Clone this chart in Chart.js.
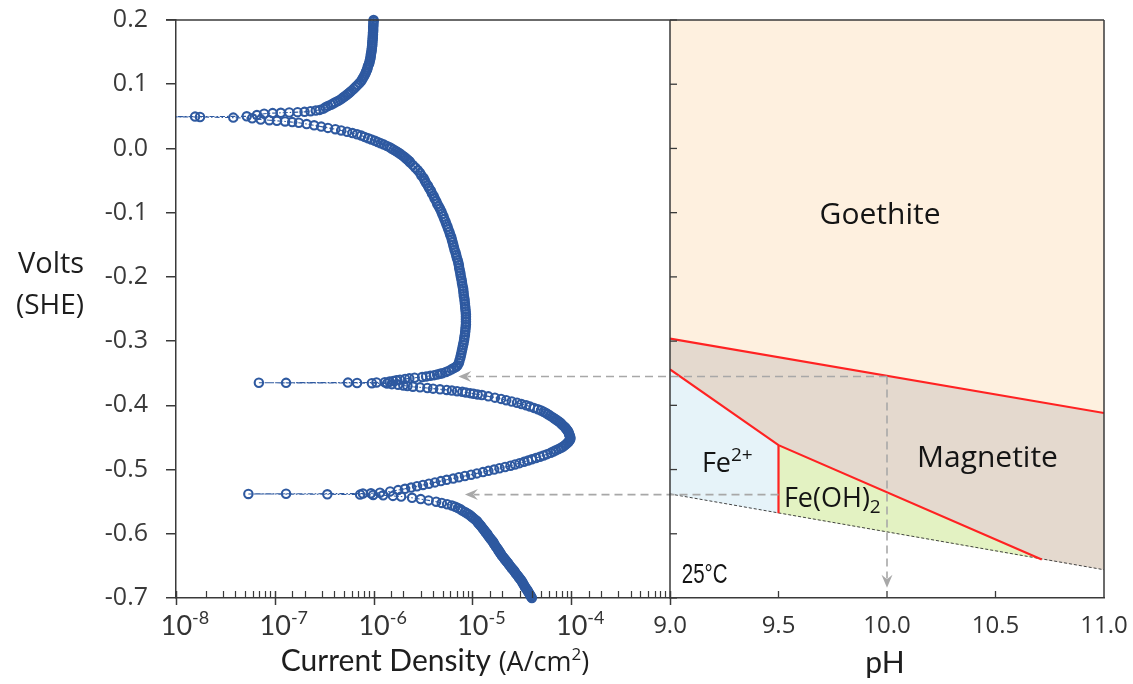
<!DOCTYPE html>
<html>
<head>
<meta charset="utf-8">
<script src="https://cdn.jsdelivr.net/npm/chart.js@4.4.1/dist/chart.umd.min.js"></script>
<style>
  html, body { margin: 0; padding: 0; background: #ffffff; }
  #wrap { position: relative; width: 1133px; height: 684px; }
  canvas { display: block; }
</style>
</head>
<body>
<div id="wrap"><canvas id="chart" width="1133" height="684"></canvas></div>
<script>
// Potentiodynamic scan of steel: [potential (V vs SHE), |current density| (A/cm2)], in scan order
const polarization = [
  [-0.700,4.0e-5],[-0.698,3.93e-5],[-0.696,3.87e-5],[-0.694,3.8e-5],[-0.692,3.73e-5],[-0.690,3.66e-5],
  [-0.688,3.6e-5],[-0.686,3.52e-5],[-0.684,3.45e-5],[-0.682,3.39e-5],[-0.680,3.33e-5],[-0.678,3.27e-5],
  [-0.676,3.22e-5],[-0.674,3.16e-5],[-0.672,3.1e-5],[-0.670,3.03e-5],[-0.668,2.96e-5],[-0.666,2.9e-5],
  [-0.664,2.83e-5],[-0.662,2.76e-5],[-0.660,2.7e-5],[-0.658,2.65e-5],[-0.656,2.59e-5],[-0.654,2.52e-5],
  [-0.652,2.46e-5],[-0.650,2.4e-5],[-0.648,2.35e-5],[-0.646,2.3e-5],[-0.644,2.24e-5],[-0.642,2.19e-5],
  [-0.640,2.14e-5],[-0.638,2.09e-5],[-0.636,2.04e-5],[-0.634,1.99e-5],[-0.632,1.95e-5],[-0.630,1.91e-5],
  [-0.628,1.88e-5],[-0.626,1.84e-5],[-0.624,1.81e-5],[-0.622,1.77e-5],[-0.620,1.73e-5],[-0.618,1.7e-5],
  [-0.616,1.66e-5],[-0.614,1.64e-5],[-0.612,1.61e-5],[-0.610,1.57e-5],[-0.608,1.53e-5],[-0.606,1.5e-5],
  [-0.604,1.46e-5],[-0.602,1.43e-5],[-0.600,1.41e-5],[-0.598,1.37e-5],[-0.596,1.34e-5],[-0.594,1.31e-5],
  [-0.592,1.28e-5],[-0.590,1.25e-5],[-0.588,1.22e-5],[-0.586,1.19e-5],[-0.584,1.16e-5],[-0.582,1.13e-5],
  [-0.580,1.11e-5],[-0.578,1.07e-5],[-0.576,1.03e-5],[-0.574,9.9e-6],[-0.572,9.6e-6],[-0.570,9.25e-6],
  [-0.568,8.8e-6],[-0.566,8.4e-6],[-0.564,7.9e-6],[-0.562,7.6e-6],[-0.560,7.15e-6],[-0.558,6.7e-6],
  [-0.556,6.2e-6],[-0.554,5.55e-6],[-0.552,4.9e-6],[-0.550,4.3e-6],[-0.548,3.6e-6],[-0.546,3.0e-6],
  [-0.544,2.45e-6],[-0.542,1.9e-6],[-0.541,1.57e-6],[-0.540,1.25e-6],[-0.5395,9.9e-7],
  [-0.539,7.3e-7],[-0.5385,3.4e-7],[-0.538,5.4e-8],[-0.5377,1.3e-7],[-0.5374,7.8e-7],[-0.537,9.4e-7],
  [-0.536,1.16e-6],[-0.534,1.47e-6],[-0.532,1.77e-6],[-0.530,2.08e-6],[-0.528,2.4e-6],[-0.526,2.75e-6],
  [-0.524,3.16e-6],[-0.522,3.63e-6],[-0.520,4.18e-6],[-0.518,4.8e-6],[-0.516,5.5e-6],[-0.514,6.4e-6],
  [-0.512,7.3e-6],[-0.510,8.4e-6],[-0.508,9.7e-6],[-0.506,1.11e-5],[-0.504,1.28e-5],[-0.502,1.45e-5],
  [-0.500,1.66e-5],[-0.498,1.88e-5],[-0.496,2.14e-5],[-0.494,2.43e-5],[-0.492,2.7e-5],[-0.490,3.0e-5],
  [-0.488,3.33e-5],[-0.486,3.66e-5],[-0.484,4.0e-5],[-0.482,4.4e-5],[-0.480,4.83e-5],[-0.478,5.25e-5],
  [-0.476,5.7e-5],[-0.474,6.2e-5],[-0.472,6.6e-5],[-0.470,7.0e-5],[-0.468,7.45e-5],[-0.466,7.9e-5],
  [-0.464,8.3e-5],[-0.462,8.65e-5],[-0.460,8.95e-5],[-0.458,9.25e-5],[-0.456,9.5e-5],[-0.454,9.7e-5],
  [-0.452,9.8e-5],[-0.450,9.8e-5],[-0.448,9.7e-5],[-0.446,9.6e-5],[-0.444,9.5e-5],[-0.442,9.4e-5],
  [-0.440,9.25e-5],[-0.438,9.05e-5],[-0.436,8.85e-5],[-0.434,8.65e-5],[-0.432,8.35e-5],[-0.430,8.1e-5],
  [-0.428,7.85e-5],[-0.426,7.6e-5],[-0.424,7.3e-5],[-0.422,7.0e-5],[-0.420,6.7e-5],[-0.418,6.4e-5],
  [-0.416,6.1e-5],[-0.414,5.8e-5],[-0.412,5.55e-5],[-0.410,5.25e-5],[-0.408,4.95e-5],[-0.406,4.6e-5],
  [-0.404,4.2e-5],[-0.402,3.83e-5],[-0.400,3.5e-5],[-0.398,3.14e-5],[-0.396,2.83e-5],[-0.394,2.5e-5],
  [-0.392,2.2e-5],[-0.390,1.95e-5],[-0.388,1.69e-5],[-0.386,1.45e-5],[-0.384,1.25e-5],[-0.383,1.13e-5],
  [-0.382,1.03e-5],[-0.381,9.5e-6],[-0.380,8.6e-6],[-0.379,7.9e-6],[-0.378,7.0e-6],[-0.377,6.2e-6],
  [-0.376,5.5e-6],[-0.375,4.7e-6],[-0.374,4.0e-6],[-0.373,3.5e-6],[-0.372,2.95e-6],[-0.371,2.5e-6],
  [-0.370,2.2e-6],[-0.369,2.0e-6],[-0.368,1.77e-6],[-0.367,1.53e-6],[-0.366,1.37e-6],
  [-0.3655,9.6e-7],[-0.3652,6.8e-7],[-0.365,1.3e-7],[-0.3648,6.9e-8],[-0.3646,5.5e-7],[-0.3644,1.07e-6],
  [-0.364,1.3e-6],[-0.363,1.45e-6],[-0.362,1.58e-6],[-0.361,1.7e-6],[-0.360,1.85e-6],[-0.359,2.08e-6],
  [-0.358,2.3e-6],[-0.357,2.6e-6],[-0.356,3.1e-6],[-0.355,3.4e-6],[-0.354,3.75e-6],[-0.353,4.1e-6],
  [-0.352,4.4e-6],[-0.351,4.7e-6],[-0.350,4.95e-6],[-0.348,5.4e-6],[-0.346,5.8e-6],[-0.344,6.15e-6],
  [-0.342,6.5e-6],[-0.340,6.85e-6],[-0.338,7.05e-6],[-0.334,7.3e-6],[-0.330,7.4e-6],[-0.326,7.55e-6],
  [-0.322,7.65e-6],[-0.318,7.75e-6],[-0.314,7.85e-6],[-0.310,7.95e-6],[-0.306,8.05e-6],[-0.302,8.15e-6],
  [-0.298,8.25e-6],[-0.294,8.3e-6],[-0.290,8.4e-6],[-0.286,8.45e-6],[-0.282,8.5e-6],[-0.278,8.55e-6],
  [-0.274,8.6e-6],[-0.270,8.6e-6],[-0.266,8.6e-6],[-0.262,8.6e-6],[-0.258,8.6e-6],[-0.254,8.55e-6],
  [-0.250,8.5e-6],[-0.246,8.45e-6],[-0.242,8.4e-6],[-0.238,8.35e-6],[-0.234,8.3e-6],[-0.230,8.2e-6],
  [-0.226,8.15e-6],[-0.222,8.1e-6],[-0.218,8.05e-6],[-0.214,7.95e-6],[-0.210,7.85e-6],[-0.206,7.8e-6],
  [-0.202,7.7e-6],[-0.198,7.6e-6],[-0.194,7.55e-6],[-0.190,7.45e-6],[-0.186,7.35e-6],[-0.182,7.3e-6],
  [-0.178,7.2e-6],[-0.174,7.1e-6],[-0.170,6.95e-6],[-0.166,6.85e-6],[-0.162,6.75e-6],[-0.158,6.6e-6],
  [-0.154,6.5e-6],[-0.150,6.4e-6],[-0.146,6.3e-6],[-0.142,6.2e-6],[-0.138,6.1e-6],[-0.134,5.95e-6],
  [-0.130,5.85e-6],[-0.126,5.7e-6],[-0.122,5.6e-6],[-0.118,5.45e-6],[-0.114,5.35e-6],[-0.110,5.2e-6],
  [-0.106,5.1e-6],[-0.102,4.95e-6],[-0.098,4.85e-6],[-0.094,4.7e-6],[-0.090,4.55e-6],[-0.086,4.4e-6],
  [-0.082,4.3e-6],[-0.078,4.15e-6],[-0.074,4.05e-6],[-0.070,3.9e-6],[-0.066,3.8e-6],[-0.062,3.65e-6],
  [-0.058,3.55e-6],[-0.054,3.4e-6],[-0.050,3.3e-6],[-0.046,3.2e-6],[-0.042,3.05e-6],[-0.038,2.95e-6],
  [-0.034,2.8e-6],[-0.030,2.65e-6],[-0.026,2.5e-6],[-0.022,2.35e-6],[-0.020,2.3e-6],[-0.018,2.22e-6],
  [-0.016,2.15e-6],[-0.014,2.08e-6],[-0.012,2.0e-6],[-0.010,1.92e-6],[-0.008,1.84e-6],[-0.006,1.76e-6],
  [-0.004,1.68e-6],[-0.002,1.6e-6],[0.000,1.52e-6],[0.002,1.45e-6],[0.004,1.36e-6],[0.006,1.27e-6],
  [0.008,1.18e-6],[0.010,1.1e-6],[0.012,1.03e-6],[0.014,9.5e-7],[0.016,8.8e-7],[0.018,8.1e-7],
  [0.020,7.5e-7],[0.022,6.8e-7],[0.024,6.1e-7],[0.026,5.4e-7],[0.028,4.7e-7],[0.030,4.1e-7],
  [0.032,3.45e-7],[0.034,2.95e-7],[0.036,2.5e-7],[0.038,2.1e-7],[0.040,1.75e-7],[0.041,1.5e-7],
  [0.042,1.27e-7],[0.043,1.05e-7],[0.044,8.8e-8],[0.045,7.2e-8],
  [0.047,5.9e-8],[0.048,3.8e-8],[0.049,1.75e-8],[0.0493,5e-9],[0.0496,1.56e-8],[0.050,5.2e-8],[0.052,6.6e-8],
  [0.054,7.8e-8],[0.055,9.5e-8],[0.0555,1.15e-7],[0.056,1.4e-7],[0.0565,1.7e-7],[0.057,2.0e-7],
  [0.058,2.3e-7],[0.059,2.6e-7],[0.060,2.85e-7],[0.062,3.1e-7],[0.064,3.25e-7],[0.066,3.45e-7],
  [0.068,3.7e-7],[0.070,3.9e-7],[0.072,4.1e-7],[0.074,4.35e-7],[0.076,4.6e-7],[0.078,4.8e-7],
  [0.080,5.0e-7],[0.082,5.2e-7],[0.084,5.4e-7],[0.086,5.6e-7],[0.088,5.8e-7],[0.090,6.0e-7],
  [0.093,6.3e-7],[0.096,6.6e-7],[0.099,6.9e-7],[0.102,7.2e-7],[0.105,7.5e-7],[0.108,7.7e-7],
  [0.111,7.9e-7],[0.114,8.1e-7],[0.117,8.3e-7],[0.120,8.4e-7],[0.123,8.6e-7],[0.126,8.7e-7],
  [0.129,8.8e-7],[0.132,9.0e-7],[0.135,9.1e-7],[0.138,9.2e-7],[0.141,9.3e-7],[0.144,9.35e-7],
  [0.147,9.4e-7],[0.150,9.5e-7],[0.153,9.55e-7],[0.156,9.6e-7],[0.159,9.65e-7],[0.162,9.7e-7],
  [0.165,9.7e-7],[0.168,9.75e-7],[0.171,9.8e-7],[0.174,9.8e-7],[0.177,9.85e-7],[0.180,9.85e-7],
  [0.183,9.9e-7],[0.186,9.9e-7],[0.189,9.9e-7],[0.192,9.95e-7],[0.195,9.95e-7],[0.198,1.0e-6],
  [0.200,1.0e-6]
];

// Pourbaix stability fields of iron at 25 °C: [pH, potential (V vs SHE)]
const goethiteField  = [[9.0,0.2],[11.0,0.2],[11.0,-0.412],[9.0,-0.296]];
const magnetiteField = [[9.0,-0.296],[11.0,-0.412],[11.0,-0.656],[10.713,-0.640],[9.5,-0.462],[9.0,-0.344]];
const ferrousField   = [[9.0,-0.344],[9.5,-0.462],[9.5,-0.568],[9.0,-0.538]];
const hydroxideField = [[9.5,-0.462],[10.713,-0.640],[9.5,-0.568]];

// Field boundaries
const goethiteBoundary  = [[9.0,-0.296],[11.0,-0.412]];
const ferrousBoundary   = [[9.0,-0.344],[9.5,-0.462],[10.713,-0.640]];
const hydroxideBoundary = [[9.5,-0.462],[9.5,-0.568]];
const hydrogenLine      = [[9.0,-0.538],[11.0,-0.656]];

// Tick labels
const currentExponents = [-8, -7, -6, -5, -4];
const phTicks = [9.0, 9.5, 10.0, 10.5, 11.0];

// Guide arrows: from a pH/potential point across to the polarization curve
const guideStartPH    = [10.0, 9.5];
const guidePotential  = [-0.355, -0.539];
const guideTipCurrent = [7.2e-6, 8.4e-6];
const dropPH = 10.0, dropTipPotential = -0.684;

const AXIS = '#3a3a3a';
const BLUE = '#2E59A0';
const RED = '#FF2222';

const toXY = arr => arr.map(p => ({ x: p[0], y: p[1] }));

function fieldSet(points, color) {
  return {
    data: toXY(points), xAxisID: 'x2', yAxisID: 'y', showLine: true,
    fill: 'shape', backgroundColor: color, borderWidth: 0, borderColor: 'rgba(0,0,0,0)',
    pointRadius: 0, order: 5
  };
}
function boundarySet(points, color, width, dash, order) {
  return {
    data: toXY(points), xAxisID: 'x2', yAxisID: 'y', showLine: true, fill: false,
    borderColor: color, borderWidth: width, borderDash: dash, pointRadius: 0, order: order
  };
}

function richText(ctx, runs, x, y, align, stretch) {
  const sx = stretch || 1;
  let w = 0;
  for (const r of runs) { ctx.font = r.font; r.w = ctx.measureText(r.text).width * sx; w += r.w; }
  let cx = align === 'center' ? x - w / 2 : x;
  ctx.textAlign = 'left';
  ctx.textBaseline = 'alphabetic';
  for (const r of runs) {
    ctx.font = r.font;
    ctx.save();
    ctx.translate(cx, y + (r.dy || 0));
    ctx.scale(sx, 1);
    ctx.fillText(r.text, 0, 0);
    ctx.restore();
    cx += r.w;
  }
}

function guideArrow(ctx, x0, y0, x1, y1) {
  const ang = Math.atan2(y1 - y0, x1 - x0);
  const head = 13;
  ctx.save();
  ctx.strokeStyle = '#a8a8a8';
  ctx.fillStyle = '#a8a8a8';
  ctx.lineWidth = 1.6;
  ctx.setLineDash([8, 5]);
  ctx.beginPath();
  ctx.moveTo(x0, y0);
  ctx.lineTo(x1 - Math.cos(ang) * head * 0.7, y1 - Math.sin(ang) * head * 0.7);
  ctx.stroke();
  ctx.setLineDash([]);
  ctx.translate(x1, y1);
  ctx.rotate(ang);
  ctx.beginPath();
  ctx.moveTo(0, 0);
  ctx.lineTo(-head, -5.5);
  ctx.lineTo(-head * 0.65, 0);
  ctx.lineTo(-head, 5.5);
  ctx.closePath();
  ctx.fill();
  ctx.restore();
}

const decor = {
  id: 'decor',
  afterDatasetsDraw(chart) {
    const { ctx, scales: { x1, x2, y } } = chart;
    for (let i = 0; i < guideStartPH.length; i++) {
      const py = y.getPixelForValue(guidePotential[i]);
      guideArrow(ctx, x2.getPixelForValue(guideStartPH[i]), py, x1.getPixelForValue(guideTipCurrent[i]), py);
    }
    const dx = x2.getPixelForValue(dropPH);
    guideArrow(ctx, dx, y.getPixelForValue(guidePotential[0]), dx, y.getPixelForValue(dropTipPotential));
  },
  afterDraw(chart) {
    const { ctx, chartArea: a, scales: { x1, x2, y } } = chart;
    const seg = (xa, ya, xb, yb) => { ctx.beginPath(); ctx.moveTo(xa, ya); ctx.lineTo(xb, yb); ctx.stroke(); };
    ctx.save();
    ctx.strokeStyle = AXIS;
    ctx.lineWidth = 1.5;
    // frame
    seg(a.left - 10, a.top, a.right, a.top);
    seg(x2.left, a.top, x2.left, a.bottom);
    seg(a.right, a.top, a.right, a.bottom);
    // log ticks: minor inward, decades crossing the axis
    for (const t of x1.ticks) {
      const px = Math.round(x1.getPixelForValue(t.value)) + 0.5;
      const lg = Math.log10(t.value);
      const major = Math.abs(lg - Math.round(lg)) < 1e-6;
      ctx.lineWidth = major ? 1.5 : 1.2;
      seg(px, a.bottom - 7, px, a.bottom + (major ? 7 : 0));
    }
    ctx.lineWidth = 1.3;
    // pH ticks (inward)
    for (const t of x2.ticks) {
      const px = x2.getPixelForValue(t.value);
      if (px > x2.left + 2 && px < x2.right - 2) seg(px, a.bottom, px, a.bottom - 7);
    }
    // potential ticks on the right panel (inward)
    for (const t of y.ticks) {
      const py = y.getPixelForValue(t.value);
      seg(x2.left, py, x2.left + 7, py);
    }
    ctx.restore();

    ctx.save();
    // current density tick labels
    ctx.fillStyle = '#333333';
    for (const e of currentExponents) {
      const px = x1.getPixelForValue(Math.pow(10, e));
      richText(ctx, [
        { text: '10', font: '27px Lato, "Open Sans", sans-serif' },
        { text: String(e), font: '18px Lato, "Open Sans", sans-serif', dy: -11 }
      ], px + 9, a.bottom + 37, 'center');
    }
    // pH tick labels
    ctx.font = '24px "Open Sans", sans-serif';
    ctx.textAlign = 'center';
    ctx.textBaseline = 'alphabetic';
    for (const v of phTicks) {
      ctx.fillText(v.toFixed(1), x2.getPixelForValue(v), a.bottom + 35);
    }
    // axis titles
    ctx.fillStyle = '#1e1e1e';
    richText(ctx, [
      { text: 'Current Density ', font: '30px Lato, sans-serif' },
      { text: '(A/cm', font: '27px "Open Sans", sans-serif' },
      { text: '2', font: '17px "Open Sans", sans-serif', dy: -11 },
      { text: ')', font: '27px "Open Sans", sans-serif' }
    ], (x1.left + x1.right) / 2 + 12, a.bottom + 73, 'center');
    richText(ctx, [{ text: 'pH', font: '30px Lato, sans-serif' }],
      (x2.left + x2.right) / 2 - 2, a.bottom + 75, 'center');
    richText(ctx, [{ text: 'Volts', font: '29px "Open Sans", sans-serif' }], 51, a.top + 253, 'center');
    richText(ctx, [{ text: '(SHE)', font: '28px "Open Sans", sans-serif' }], 50, a.top + 294, 'center');

    // field names
    ctx.fillStyle = '#141414';
    const P = (ph, v) => [x2.getPixelForValue(ph), y.getPixelForValue(v)];
    let p = P(9.968, -0.1177);
    richText(ctx, [{ text: 'Goethite', font: '30px "Open Sans", sans-serif' }], p[0], p[1], 'center');
    p = P(10.463, -0.4966);
    richText(ctx, [{ text: 'Magnetite', font: '30px "Open Sans", sans-serif' }], p[0], p[1], 'center');
    p = P(9.147, -0.504);
    richText(ctx, [
      { text: 'Fe', font: '27px "Open Sans", sans-serif' },
      { text: '2+', font: '19px "Open Sans", sans-serif', dy: -11 }
    ], p[0], p[1], 'left');
    p = P(9.525, -0.558);
    richText(ctx, [
      { text: 'Fe(OH)', font: '27px "Open Sans", sans-serif' },
      { text: '2', font: '19px "Open Sans", sans-serif', dy: 6 }
    ], p[0], p[1], 'left');
    p = P(9.054, -0.676);
    richText(ctx, [{ text: '25°C', font: '27px "Liberation Sans", Arial, sans-serif' }], p[0], p[1], 'left', 0.76);
    ctx.restore();
  }
};

new Chart(document.getElementById('chart'), {
  type: 'scatter',
  data: {
    datasets: [
      {
        data: polarization.map(p => ({ x: p[1], y: p[0] })),
        xAxisID: 'x1', yAxisID: 'y', showLine: true, fill: false,
        borderColor: BLUE, borderWidth: 1.1, borderDash: [5, 2, 1.5, 2],
        pointRadius: 4.2, pointBorderWidth: 2.1, pointBorderColor: BLUE,
        pointBackgroundColor: 'rgba(255,255,255,0)',
        clip: { left: 0, top: 8, right: 0, bottom: 8 }, order: 0
      },
      fieldSet(goethiteField, '#FEF0DF'),
      fieldSet(magnetiteField, '#E4D9CE'),
      fieldSet(ferrousField, '#E6F3F9'),
      fieldSet(hydroxideField, '#E3F2C2'),
      boundarySet(hydrogenLine, '#444444', 1, [3, 2], 3),
      boundarySet(goethiteBoundary, RED, 2.2, [], 2),
      boundarySet(ferrousBoundary, RED, 2.2, [], 2),
      boundarySet(hydroxideBoundary, RED, 2.2, [], 2)
    ]
  },
  options: {
    responsive: false,
    animation: false,
    events: [],
    devicePixelRatio: 1,
    layout: { padding: { top: 20, right: 29, left: 0, bottom: 0 } },
    plugins: { legend: { display: false }, tooltip: { enabled: false } },
    scales: {
      y: {
        position: 'left', min: -0.7, max: 0.2,
        ticks: {
          stepSize: 0.1, padding: 18, color: '#3a3a3a',
          font: { family: '"Open Sans", sans-serif', size: 25 },
          callback: v => (Math.abs(v) < 1e-9 ? 0 : v).toFixed(1)
        },
        grid: { drawOnChartArea: false, drawTicks: true, tickLength: 10, color: AXIS, lineWidth: 1.5 },
        border: { display: true, color: AXIS, width: 1.5 },
        afterFit(s) { s.width = 176; s.paddingTop = 10; s.paddingBottom = 10; }
      },
      x1: {
        type: 'logarithmic', position: 'bottom', stack: 'panels', stackWeight: 494,
        min: 1e-8, max: 1e-3,
        ticks: { display: false },
        grid: { display: false },
        border: { display: true, color: AXIS, width: 1.5 },
        afterFit(s) { s.height = 86; }
      },
      x2: {
        type: 'linear', position: 'bottom', stack: 'panels', stackWeight: 434,
        min: 9, max: 11,
        ticks: { display: false, stepSize: 0.5 },
        grid: { display: false },
        border: { display: true, color: AXIS, width: 1.5 },
        afterFit(s) { s.height = 86; }
      }
    }
  },
  plugins: [decor]
});
</script>
</body>
</html>
